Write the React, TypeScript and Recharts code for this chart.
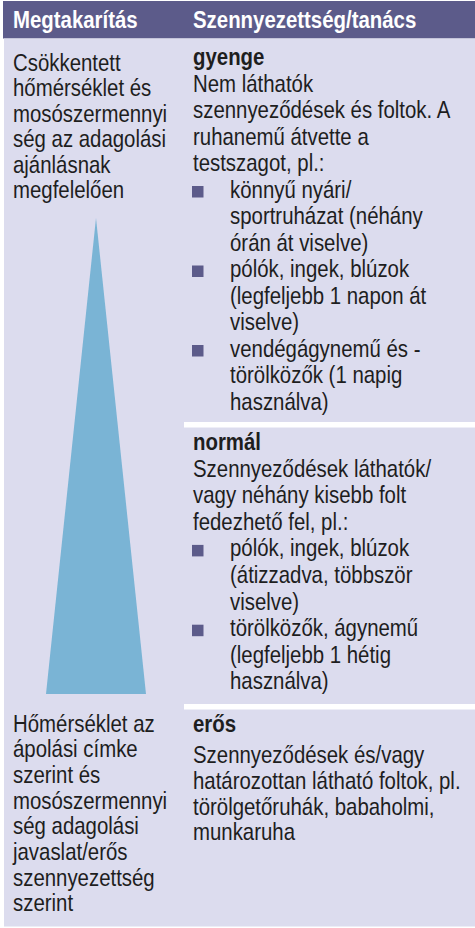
import React from 'react';
import { BarChart, Bar, XAxis, YAxis } from 'recharts';

// table headings
const headers = ['Megtakarítás', 'Szennyezettség/tanács'];

// left column: savings at the top and at the bottom of the wedge
const savingTopLines = ['Csökkentett', 'hőmérséklet és', 'mosószermennyi', 'ség az adagolási', 'ajánlásnak', 'megfelelően'];
const savingBottomLines = ['Hőmérséklet az', 'ápolási címke', 'szerint és', 'mosószermennyi', 'ség adagolási', 'javaslat/erős', 'szennyezettség', 'szerint'];

// right column: soiling levels
const soilLevels = ['gyenge', 'normál', 'erős'];
const soilIntro = [
  ['Nem láthatók', 'szennyeződések és foltok. A', 'ruhanemű átvette a', 'testszagot, pl.:'],
  ['Szennyeződések láthatók/', 'vagy néhány kisebb folt', 'fedezhető fel, pl.:'],
  ['Szennyeződések és/vagy', 'határozottan látható foltok, pl.', 'törölgetőruhák, babaholmi,', 'munkaruha']
];
const soilItems = [
  [
    ['könnyű nyári/', 'sportruházat (néhány', 'órán át viselve)'],
    ['pólók, ingek, blúzok', '(legfeljebb 1 napon át', 'viselve)'],
    ['vendégágynemű és -', 'törölközők (1 napig', 'használva)']
  ],
  [
    ['pólók, ingek, blúzok', '(átizzadva, többször', 'viselve)'],
    ['törölközők, ágynemű', '(legfeljebb 1 hétig', 'használva)']
  ],
  []
];

// the savings wedge
const wedgeCategories = ['Megtakarítás'];
const wedgeValues = [100];

const W = 475;
const H = 928;
const HEAD = '#5c5b8a';
const BODY = '#dcdcee';
const WEDGE = '#7ab4d5';
const INK = '#1e1e1e';
const FONT = "'Liberation Sans', Arial, sans-serif";
const FS = 24;
const SQUEEZE = 0.85; // no narrow face installed, so condense by hand

// baseline of the first line in each right-hand block, and line step
const blockStart = [65, 450, 731.5];
const blockStep = [26.5, 26.6, 25.7];
const blockGap = [0, 0, 6];
const separators = [422, 704];

const TriangleBar = (props: any) => {
  const { x, y, width, height, fill } = props;
  const pts = `${x + width / 2},${y} ${x + width},${y + height} ${x},${y + height}`;
  return <polygon points={pts} fill={fill} />;
};

const Line = ({ x, y, bold, children }: { x: number; y: number; bold?: boolean; children: React.ReactNode }) => (
  <text transform={`translate(${x},${y}) scale(${SQUEEZE},1)`} fontWeight={bold ? 700 : 400}>{children}</text>
);

const Lines = ({ lines, x, y, step }: { lines: string[]; x: number; y: number; step: number }) => (
  <>
    {lines.map((l, i) => (
      <Line key={i} x={x} y={y + i * step}>{l}</Line>
    ))}
  </>
);

export default function App() {
  const chartData = wedgeCategories.map((name, i) => ({ name, value: wedgeValues[i] }));

  const rightBlocks = soilLevels.map((level, b) => {
    const step = blockStep[b];
    const y0 = blockStart[b];
    const introY = y0 + step + blockGap[b];
    let line = soilIntro[b].length;
    const items = soilItems[b].map((item, j) => {
      const iy = introY + line * step;
      line += item.length;
      return (
        <g key={j}>
          <rect x={192} y={iy - 11.5} width={11.5} height={11.5} fill={HEAD} />
          <Lines lines={item} x={230} y={iy} step={step} />
        </g>
      );
    });
    return (
      <g key={level}>
        <Line x={193} y={y0} bold>{level}</Line>
        <Lines lines={soilIntro[b]} x={193} y={introY} step={step} />
        {items}
      </g>
    );
  });

  return (
    <div style={{ position: 'relative', width: W, height: H, background: '#fff' }}>
      <style>{'body{margin:0}'}</style>
      <svg width={W} height={H} style={{ position: 'absolute', left: 0, top: 0 }}>
        <rect x={3} y={1} width={W - 3} height={37.5} fill={HEAD} />
        <rect x={4} y={38.5} width={W - 4} height={888} fill={BODY} />
        {separators.map((s) => (
          <rect key={s} x={184} y={s} width={W - 184} height={5.5} fill="#fff" />
        ))}
        <g fontFamily={FONT} fontSize={FS} fill="#fff">
          <Line x={13} y={28} bold>{headers[0]}</Line>
          <Line x={193} y={28} bold>{headers[1]}</Line>
        </g>
        <g fontFamily={FONT} fontSize={FS} fill={INK}>
          <Lines lines={savingTopLines} x={13} y={70.5} step={25.5} />
          <Lines lines={savingBottomLines} x={13} y={731.5} step={25.7} />
          {rightBlocks}
        </g>
      </svg>
      <div style={{ position: 'absolute', left: 6, top: 218 }}>
        <BarChart width={180} height={476} data={chartData} margin={{ top: 0, right: 0, bottom: 0, left: 0 }}>
          <XAxis dataKey="name" hide />
          <YAxis domain={[0, 100]} hide />
          <Bar dataKey="value" barSize={100} fill={WEDGE} shape={<TriangleBar />} isAnimationActive={false} />
        </BarChart>
      </div>
    </div>
  );
}
